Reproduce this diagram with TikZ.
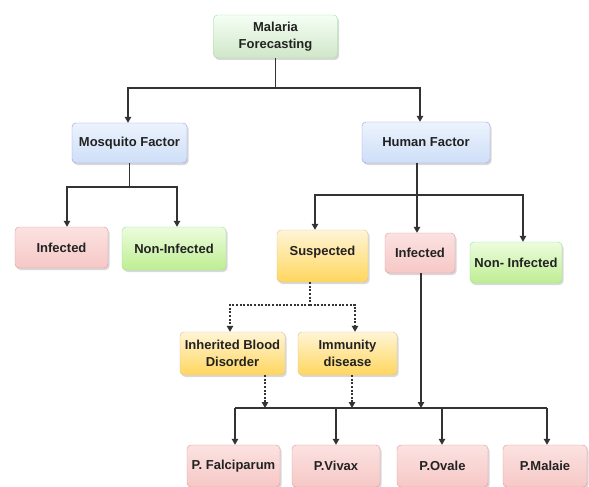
\documentclass[tikz,border=0pt]{standalone}
\usepackage{fontspec}
\setmainfont{Liberation Sans}
\usetikzlibrary{arrows.meta,shadows}
\definecolor{txt}{HTML}{222222}
\definecolor{ln}{HTML}{333333}
\begin{document}
\begin{tikzpicture}[x=1pt,y=-1pt,
  box/.style={rounded corners=4pt, draw=#1!70!black!40, line width=0.4pt,
    drop shadow={shadow xshift=1.5pt,shadow yshift=-2pt,opacity=0.25,fill=black!60},
    align=center, inner sep=2pt, text=txt,
    font=\fontsize{13}{17}\selectfont\bfseries},
  gbox/.style={box=green, top color=green!4!white, bottom color={rgb,255:red,208;green,230;blue,200}},
  bbox/.style={box=blue, top color={rgb,255:red,236;green,243;blue,253}, bottom color={rgb,255:red,206;green,223;blue,248}},
  rbox/.style={box=red, top color={rgb,255:red,251;green,226;blue,225}, bottom color={rgb,255:red,246;green,200;blue,198}},
  lbox/.style={box=green, top color={rgb,255:red,236;green,252;blue,222}, bottom color={rgb,255:red,190;green,238;blue,146}},
  ybox/.style={box=orange, top color={rgb,255:red,255;green,245;blue,214}, bottom color={rgb,255:red,255;green,214;blue,94}},
  line/.style={draw=ln, line width=1.2pt},
  arr/.style={line, -{Triangle[length=6pt,width=6.5pt]}},
  darr/.style={arr, dash pattern=on 2pt off 1.6pt},
  dline/.style={line, dash pattern=on 2pt off 1.6pt}
]
\useasboundingbox (0,0) rectangle (589,487);

\node[gbox, minimum width=124pt, minimum height=43pt] (mf) at (275.5,36.5) {Malaria\\Forecasting};
\node[bbox, minimum width=115pt, minimum height=40pt] (mosq) at (129.5,143) {Mosquito Factor};
\node[bbox, minimum width=128pt, minimum height=41pt] (hf) at (426,142.5) {Human Factor};
\node[rbox, minimum width=93pt, minimum height=41pt] (inf1) at (61.5,247.5) {Infected};
\node[lbox, minimum width=104pt, minimum height=43pt] (ninf1) at (174,248.5) {Non-Infected};
\node[ybox, minimum width=91pt, minimum height=52pt, text depth=10pt] (susp) at (322.5,256) {Suspected};
\node[rbox, minimum width=70pt, minimum height=40pt] (inf2) at (420,253) {Infected};
\node[lbox, minimum width=92pt, minimum height=41pt] (ninf2) at (516,262.5) {Non- Infected};
\node[ybox, minimum width=105pt, minimum height=43pt] (ibd) at (232.5,353.5) {Inherited Blood\\Disorder};
\node[ybox, minimum width=99pt, minimum height=43pt] (imm) at (347.5,353.5) {Immunity\\disease};
\node[rbox, minimum width=93pt, minimum height=42pt] (pf) at (233.5,466) {P. Falciparum};
\node[rbox, minimum width=88pt, minimum height=42pt] (pv) at (336,466) {P.Vivax};
\node[rbox, minimum width=91pt, minimum height=42pt] (po) at (442.5,466) {P.Ovale};
\node[rbox, minimum width=84pt, minimum height=42pt] (pm) at (545,466) {P.Malaie};

% top level
\draw[arr] (mf.south) -- (mf.south |- 0,88) -| (mosq.north -| 128,0);
\draw[arr] (mf.south |- 0,88) -| (hf.north -| 420,0);
% mosquito
\draw[arr] (mosq.south) -- (mosq.south |- 0,187) -| (inf1.north -| 67,0);
\draw[arr] (mosq.south |- 0,187) -| (ninf1.north -| 177,0);
% human
\draw[line] (hf.south -| 417,0) -- (417,195);
\draw[arr] (417,195) -| (susp.north -| 315,0);
\draw[arr] (417,195) -- (inf2.north -| 417,0);
\draw[arr] (417,195) -| (ninf2.north -| 523,0);
% suspected
\draw[dline] (susp.south -| 310,0) -- (310,305);
\draw[darr] (310,305) -| (ibd.north -| 230,0);
\draw[darr] (310,305) -| (imm.north -| 355,0);
% to bus
\coordinate (busL) at (235,408);
\coordinate (busR) at (547,408);
\draw[darr] (ibd.south -| 265,0) -- (265,408);
\draw[darr] (imm.south -| 352,0) -- (352,408);
\draw[arr] (inf2.south -| 421,0) -- (421,408);
\draw[line] (busL) -- (busR);
\draw[arr] (busL) -- (pf.north -| busL);
\draw[arr] (336,408) -- (pv.north -| 336,0);
\draw[arr] (442,408) -- (po.north -| 442,0);
\draw[arr] (busR) -- (pm.north -| busR);
\end{tikzpicture}
\end{document}
